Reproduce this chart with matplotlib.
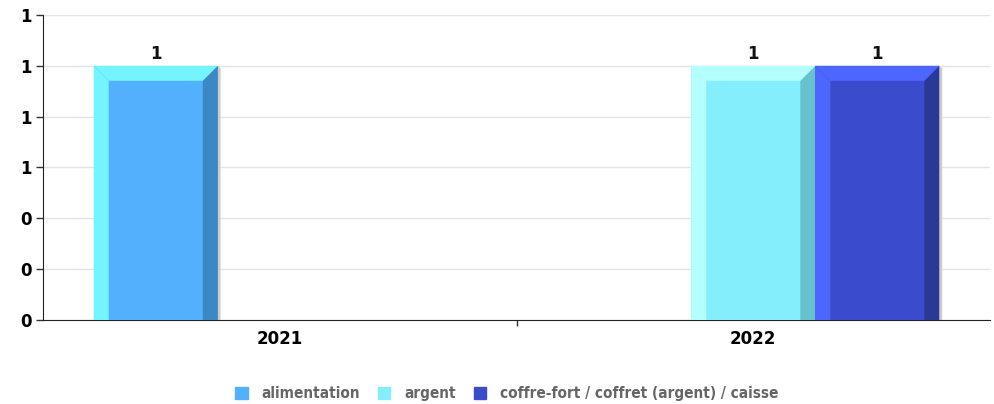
import matplotlib
matplotlib.use("Agg")
import matplotlib.pyplot as plt
from matplotlib.patches import Polygon, Patch

# data
years = ['2021', '2022']
series = ['alimentation', 'argent', 'coffre-fort / coffret (argent) / caisse']
values = [
    [1, 0],   # alimentation
    [0, 1],   # argent
    [0, 1],   # coffre-fort / coffret (argent) / caisse
]
colors = ['#52b0fc', '#84eefc', '#3a4ccc']
light = ['#74f4ff', '#b4ffff', '#4c66ff']
dark = ['#3b88c4', '#66c2cc', '#2a3898']

fig = plt.figure(figsize=(9.94, 4.04), dpi=100)
ax = fig.add_axes([0.0433, 0.208, 0.9527, 0.755])

w = 0.262
ymax = 1.2
# bevel sizes (in data units)
bx = 15 / 473.5
by = 15 / (305 / ymax)

for j, name in enumerate(series):
    xs = [i + (j - 1) * w for i in range(len(years))]
    bars = ax.bar(xs, values[j], width=w, color=colors[j], zorder=3)
    for b, v in zip(bars, values[j]):
        if v <= 0:
            continue
        x0 = b.get_x()
        x1 = x0 + b.get_width()
        h = b.get_height()
        # shadow
        ax.add_patch(Polygon([(x1, 0), (x1 + 0.006, 0), (x1 + 0.006, h - 0.01), (x1, h)],
                             closed=True, color='#cccccc', lw=0, zorder=2))
        # left highlight
        ax.add_patch(Polygon([(x0, 0), (x0 + bx, 0), (x0 + bx, h - by), (x0, h)],
                             closed=True, color=light[j], lw=0, zorder=4))
        # right shade
        ax.add_patch(Polygon([(x1, 0), (x1 - bx, 0), (x1 - bx, h - by), (x1, h)],
                             closed=True, color=dark[j], lw=0, zorder=4))
        # top highlight
        ax.add_patch(Polygon([(x0, h), (x1, h), (x1 - bx, h - by), (x0 + bx, h - by)],
                             closed=True, color=light[j], lw=0, zorder=5))
        ax.annotate(str(v), (b.get_x() + b.get_width() / 2, h), xytext=(0, 2),
                    textcoords='offset points', ha='center', va='bottom',
                    fontsize=12, fontweight='bold', color='#111111')

ax.set_xlim(-0.5, len(years) - 0.5)
ax.set_ylim(0, ymax)
yt = [0, 0.2, 0.4, 0.6, 0.8, 1.0, 1.2]
ax.set_yticks(yt)
ax.set_yticklabels(['%.0f' % t for t in yt], fontsize=12, fontweight='bold')
ax.set_xticks(range(len(years)))
ax.set_xticklabels(years, fontsize=12, fontweight='bold')
ax.tick_params(axis='x', length=0, pad=7)
ax.set_xticks([0.5], minor=True)
ax.tick_params(axis='x', which='minor', length=4, width=1, direction='out', color='#333333')
ax.tick_params(axis='y', length=5, width=1, color='#333333', pad=3)
ax.grid(axis='y', color='#e4e4e4', lw=1, zorder=0)
ax.set_axisbelow(True)
for s in ['top', 'right']:
    ax.spines[s].set_visible(False)
ax.spines['left'].set_color('#222222')
ax.spines['bottom'].set_color('#222222')

handles = [Patch(color=c) for c in colors]
leg = fig.legend(handles, series, loc='center', bbox_to_anchor=(0.51, 0.025), ncol=3,
                 frameon=False, handlelength=0.8, handleheight=0.8, handletextpad=0.9,
                 columnspacing=1.2,
                 prop={'size': 11, 'weight': 'bold', 'stretch': 'condensed'})
for t in leg.get_texts():
    t.set_color('#666666')

fig.savefig('out.png', dpi=100)
